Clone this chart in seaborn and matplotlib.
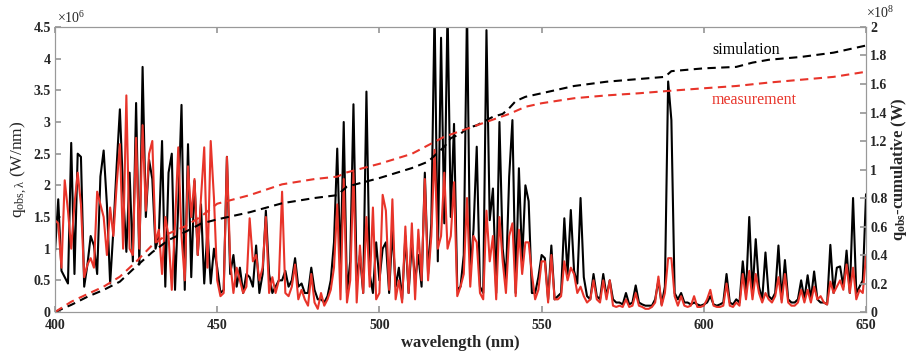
import numpy as np
import pandas as pd
import seaborn as sns
import matplotlib
matplotlib.use("Agg")
import matplotlib.pyplot as plt
from matplotlib.ticker import FuncFormatter, MultipleLocator

sns.set_theme(style="ticks")
plt.rcParams["font.family"] = ["Liberation Serif", "DejaVu Serif"]
plt.rcParams["mathtext.fontset"] = "custom"
plt.rcParams["mathtext.rm"] = "Liberation Serif"
plt.rcParams["mathtext.it"] = "Liberation Serif:italic"
plt.rcParams["mathtext.bf"] = "Liberation Serif:bold"

# spectra, 1 nm steps from 400 to 650 nm, in units of 1e6 W/nm
wavelength = np.arange(400, 651)

q_sim = [
    0.95, 1.78, 0.65, 0.55, 0.45, 2.67, 0.6, 2.5, 2.45, 0.4,
    0.75, 1.2, 1.05, 0.6, 2.14, 2.55, 1.7, 0.45, 1.3, 2.3,
    3.2, 1.9, 0.95, 2.2, 0.8, 3.3, 0.75, 3.87, 1.5, 2.4,
    2.1, 1.0, 1.2, 2.7, 0.4, 2.2, 2.5, 0.35, 1.7, 3.27,
    0.35, 2.65, 0.55, 2.07, 0.9, 1.7, 0.45, 1.3, 0.45, 1.0,
    0.7, 0.3, 0.35, 2.45, 0.6, 0.9, 0.4, 0.7, 0.3, 0.6,
    0.55, 0.4, 1.05, 0.3, 0.6, 1.6, 0.6, 0.3, 0.4, 0.5,
    0.5, 0.65, 0.4, 0.5, 0.85, 0.4, 0.45, 0.3, 0.3, 0.7,
    0.35, 0.2, 0.2, 0.15, 0.25, 0.5, 1.1, 2.58, 0.7, 3.0,
    0.3, 0.8, 3.28, 0.5, 0.9, 0.3, 3.48, 0.6, 0.3, 1.1,
    0.5, 1.0, 1.1, 0.3, 1.3, 0.4, 0.7, 0.2, 1.2, 0.3,
    1.1, 0.5, 0.9, 0.4, 2.2, 0.6, 1.4, 4.8, 0.8, 4.33,
    1.4, 4.8, 1.5, 2.97, 0.35, 0.4, 0.9, 4.8, 0.6, 1.3,
    2.61, 0.4, 0.3, 4.45, 1.45, 1.95, 0.3, 3.0, 1.0, 0.5,
    2.14, 3.03, 0.3, 2.27, 0.8, 2.0, 1.75, 0.3, 0.3, 0.55,
    0.9, 0.85, 0.2, 1.05, 0.2, 0.25, 0.3, 1.48, 0.6, 1.61,
    0.65, 0.45, 1.8, 0.55, 0.25, 0.2, 0.6, 0.25, 0.2, 0.6,
    0.25, 0.5, 0.2, 0.15, 0.15, 0.12, 0.3, 0.12, 0.15, 0.42,
    0.15, 0.12, 0.1, 0.1, 0.1, 0.2, 0.5, 0.12, 0.4, 3.64,
    3.03, 0.3, 0.2, 0.3, 0.15, 0.15, 0.12, 0.15, 0.12, 0.1,
    0.12, 0.15, 0.25, 0.12, 0.1, 0.12, 0.15, 0.6, 0.15, 0.12,
    0.2, 0.15, 0.8, 0.3, 1.5, 0.3, 1.15, 0.4, 0.2, 0.94,
    0.25, 0.2, 0.3, 1.05, 0.2, 0.82, 0.2, 0.15, 0.15, 0.2,
    0.5, 0.2, 0.58, 0.2, 0.64, 0.2, 0.15, 0.15, 0.12, 1.06,
    0.3, 0.7, 0.72, 0.4, 0.97, 0.3, 1.8, 0.3, 0.4, 0.5,
    1.86,
]

q_meas = [
    1.45, 1.4, 0.7, 2.08, 1.6, 1.0, 1.7, 2.2, 1.7, 0.55,
    0.75, 0.85, 0.7, 1.9, 1.7, 1.5, 0.9, 1.65, 1.2, 2.0,
    2.65, 1.0, 3.42, 1.0, 0.9, 2.75, 1.0, 2.95, 1.6, 2.5,
    2.7, 1.1, 1.3, 0.6, 1.5, 1.2, 0.35, 1.4, 2.6, 1.2,
    0.5, 2.3, 1.5, 2.1, 0.9, 1.8, 2.6, 0.7, 2.7, 1.8,
    0.5, 0.25, 0.3, 2.45, 0.8, 0.3, 0.7, 0.5, 0.3, 0.4,
    1.48, 0.8, 0.9, 0.5, 0.7, 1.5, 0.3, 0.55, 0.3, 0.5,
    1.9, 0.3, 0.25, 0.4, 0.75, 0.2, 0.35, 0.2, 0.1, 0.6,
    0.15, 0.05, 0.3, 0.1, 0.2, 0.35, 0.7, 1.7, 0.2, 2.1,
    0.15, 0.5, 2.2, 0.15, 1.05, 0.3, 1.5, 0.4, 1.65, 0.2,
    0.3, 1.85, 1.6, 0.35, 1.78, 0.2, 0.5, 0.15, 1.35, 0.3,
    1.4, 0.2, 1.3, 0.5, 2.1, 0.5, 1.2, 2.56, 1.0, 1.2,
    2.2, 1.0, 1.2, 2.05, 0.25, 0.4, 0.6, 1.8, 0.4, 1.2,
    1.1, 0.3, 0.2, 1.6, 0.8, 1.2, 0.2, 1.5, 0.8, 0.3,
    1.2, 1.4, 0.25, 1.3, 0.6, 1.1, 1.1, 0.6, 0.2, 0.35,
    0.8, 0.8, 0.15, 0.9, 0.2, 0.2, 0.25, 0.8, 0.5, 0.7,
    0.6, 0.3, 0.4, 0.25, 0.15, 0.2, 0.5, 0.2, 0.15, 0.5,
    0.2, 0.5, 0.1, 0.08, 0.1, 0.08, 0.2, 0.08, 0.1, 0.3,
    0.1, 0.08, 0.05, 0.05, 0.08, 0.15, 0.56, 0.1, 0.3, 0.85,
    0.85, 0.25, 0.1, 0.25, 0.1, 0.08, 0.1, 0.25, 0.08, 0.08,
    0.1, 0.2, 0.35, 0.1, 0.08, 0.08, 0.1, 0.45, 0.1, 0.08,
    0.15, 0.1, 0.6, 0.2, 0.65, 0.2, 0.6, 0.3, 0.15, 0.3,
    0.2, 0.15, 0.25, 0.55, 0.15, 0.6, 0.15, 0.1, 0.1, 0.15,
    0.35, 0.15, 0.35, 0.15, 0.4, 0.2, 0.25, 0.15, 0.12, 0.48,
    0.3, 0.4, 0.5, 0.35, 0.75, 0.3, 0.7, 0.2, 0.35, 0.3,
    0.9,
]

# cumulative curves, in units of 1e8 W
cum_wl_sim = [400, 405, 410, 415, 420, 425, 430, 435, 440, 445, 450, 460, 470,
              480, 487, 490, 500, 510, 515, 520, 522, 525, 527, 530, 535, 538,
              540, 542, 545, 550, 560, 570, 580, 588, 590, 600, 610, 615, 620,
              630, 640, 650]
cum_sim = [0, 0.05, 0.107, 0.155, 0.213, 0.32, 0.42, 0.505, 0.56, 0.62, 0.65,
           0.70, 0.763, 0.80, 0.82, 0.88, 0.94, 1.01, 1.055, 1.16, 1.22, 1.25,
           1.29, 1.31, 1.37, 1.39, 1.43, 1.48, 1.51, 1.535, 1.586, 1.616, 1.635,
           1.65, 1.69, 1.71, 1.72, 1.75, 1.77, 1.79, 1.82, 1.87]

cum_wl_meas = [400, 405, 410, 415, 420, 425, 430, 435, 440, 445, 450, 460, 470,
               480, 487, 490, 500, 510, 515, 520, 525, 530, 535, 540, 545, 550,
               560, 570, 580, 590, 600, 610, 620, 630, 640, 650]
cum_meas = [0, 0.072, 0.126, 0.178, 0.248, 0.353, 0.47, 0.55, 0.60, 0.67, 0.76,
            0.82, 0.896, 0.933, 0.95, 0.98, 1.04, 1.11, 1.17, 1.23, 1.27, 1.31,
            1.35, 1.39, 1.44, 1.465, 1.50, 1.52, 1.535, 1.553, 1.57, 1.586, 1.61,
            1.63, 1.65, 1.686]

red = "#e8342a"
frame = "0.6"

spec = pd.DataFrame({"wl": wavelength, "sim": q_sim, "meas": q_meas})
cs = pd.DataFrame({"wl": cum_wl_sim, "c": cum_sim})
cm = pd.DataFrame({"wl": cum_wl_meas, "c": cum_meas})

fig = plt.figure(figsize=(9.12, 3.52), dpi=100)
ax = fig.add_axes([0.0603, 0.1136, 0.8893, 0.8097])
ax2 = ax.twinx()

sns.lineplot(x="wl", y="sim", data=spec, ax=ax, color="black", lw=1.5, estimator=None)
sns.lineplot(x="wl", y="meas", data=spec, ax=ax, color=red, lw=1.5, estimator=None)
sns.lineplot(x="wl", y="c", data=cs, ax=ax2, color="black", lw=1.5,
             linestyle=(0, (4, 2.6)), estimator=None)
sns.lineplot(x="wl", y="c", data=cm, ax=ax2, color=red, lw=1.5,
             linestyle=(0, (4, 2.6)), estimator=None)

ax.set_xlim(400, 650)
ax.set_ylim(0, 4.5)
ax2.set_ylim(0, 2)
ax.xaxis.set_major_locator(MultipleLocator(50))
ax.yaxis.set_major_locator(MultipleLocator(0.5))
ax2.yaxis.set_major_locator(MultipleLocator(0.2))
fmt = FuncFormatter(lambda v, p: f"{v:g}")
ax.yaxis.set_major_formatter(fmt)
ax2.yaxis.set_major_formatter(fmt)

for a in (ax, ax2):
    for s in a.spines.values():
        s.set_color(frame)
        s.set_linewidth(0.8)
ax.tick_params(axis="x", direction="in", top=True, length=4, color=frame, pad=5)
ax.tick_params(axis="y", direction="in", right=False, length=4, color=frame, pad=3)
ax2.tick_params(axis="y", direction="in", length=4, color=frame, pad=3)
for lab in ax.get_xticklabels() + ax.get_yticklabels() + ax2.get_yticklabels():
    lab.set_fontweight("bold")
    lab.set_fontsize(10)

ax.set_xlabel("wavelength (nm)", fontsize=12, fontweight="bold", labelpad=2)
ax.set_ylabel(r"q$_{\mathrm{obs,\lambda}}$ (W/nm)", fontsize=12.5, labelpad=3)
ax2.set_ylabel(r"q$_{\mathbf{obs}}$-cumulative (W)", fontsize=12,
               fontweight="bold", labelpad=1)

ax.text(0.003, 1.005, r"$\times10^{6}$", transform=ax.transAxes, fontsize=10,
        ha="left", va="bottom")
ax.text(1.0, 1.02, r"$\times10^{8}$", transform=ax.transAxes, fontsize=10,
        ha="left", va="bottom")

ax2.text(602.5, 1.84, "simulation", fontsize=11.5, color="black", va="center")
ax2.text(602.5, 1.49, "measurement", fontsize=11.5, color=red, va="center")

plt.savefig("out.png", dpi=100)
